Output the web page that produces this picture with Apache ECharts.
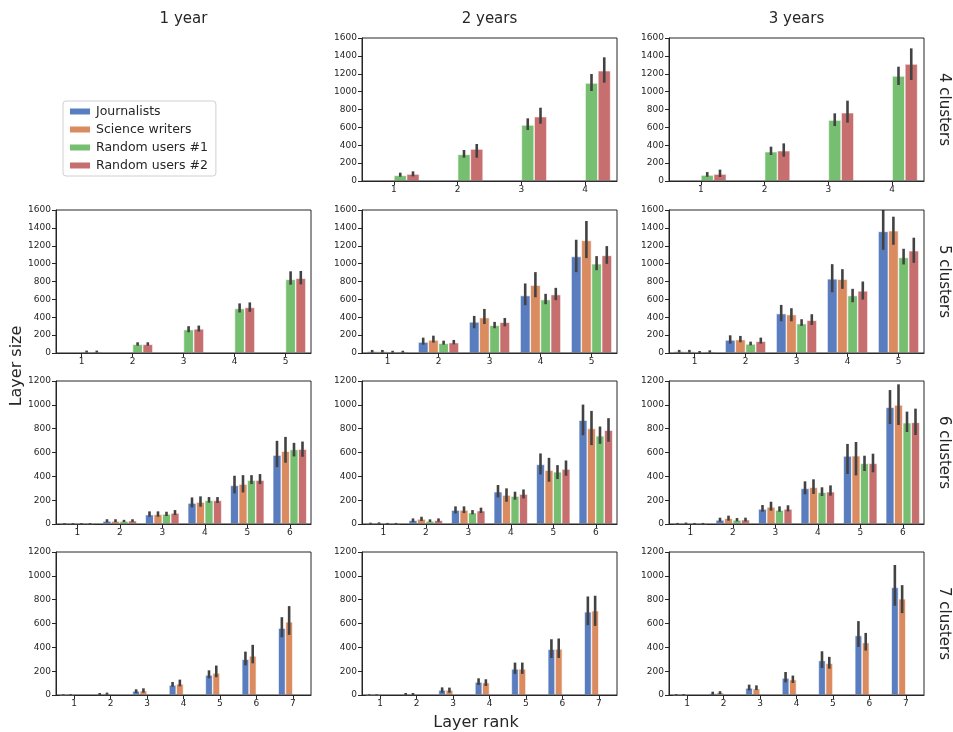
<!DOCTYPE html>
<html>
<head>
<meta charset="utf-8">
<script src="https://cdn.jsdelivr.net/npm/echarts@6/dist/echarts.min.js"></script>
<style>html,body{margin:0;padding:0;background:#fff}#c{width:953px;height:732px}</style>
</head>
<body>
<div id="c"></div>
<script>
const hueNames = ['Journalists', 'Science writers', 'Random users #1', 'Random users #2'];
const hueColors = ['#597dbf', '#da8b5f', '#76bf71', '#c76e6e'];
const colTitles = ['1 year', '2 years', '3 years'];
const rowTitles = ['4 clusters', '5 clusters', '6 clusters', '7 clusters'];
const rowYMax = [1600, 1600, 1200, 1200];
const yTickStep = 200;
const cats4 = ['1', '2', '3', '4'];
const cats5 = ['1', '2', '3', '4', '5'];
const cats6 = ['1', '2', '3', '4', '5', '6'];
const cats7 = ['1', '2', '3', '4', '5', '6', '7'];

// order of hues: Journalists, Science writers, Random users #1, Random users #2
// 2 years, 4 clusters
const y2c4_mean = [[], [], [63, 298, 627, 1096], [78, 358, 720, 1234]];
const y2c4_lo   = [[], [], [48, 261, 571, 1007], [52, 261, 641, 1100]];
const y2c4_hi   = [[], [], [93, 347, 701, 1197], [108, 414, 820, 1384]];
// 3 years, 4 clusters
const y3c4_mean = [[], [], [67, 328, 682, 1175], [78, 339, 764, 1309]];
const y3c4_lo   = [[], [], [48, 291, 615, 1074], [45, 272, 653, 1130]];
const y3c4_hi   = [[], [], [100, 384, 757, 1279], [127, 421, 899, 1484]];
// 1 year, 5 clusters
const y1c5_mean = [[], [], [15, 97, 262, 498, 824], [15, 97, 270, 510, 836]];
const y1c5_lo   = [[], [], [6, 82, 232, 453, 764], [6, 82, 240, 461, 768]];
const y1c5_hi   = [[], [], [27, 120, 300, 555, 914], [27, 120, 307, 566, 918]];
// 2 years, 5 clusters
const y2c5_mean = [[19, 123, 348, 643, 1080], [19, 146, 396, 759, 1260], [15, 108, 310, 598, 998], [15, 116, 344, 654, 1092]];
const y2c5_lo   = [[6, 93, 277, 535, 905], [6, 116, 325, 624, 1062], [5, 93, 277, 546, 927], [5, 97, 299, 591, 998]];
const y2c5_hi   = [[34, 172, 415, 778, 1267], [34, 194, 493, 905, 1477], [25, 138, 348, 662, 1084], [25, 146, 392, 729, 1196]];
// 3 years, 5 clusters
const y3c5_mean = [[19, 146, 441, 830, 1361], [19, 150, 430, 826, 1368], [11, 101, 329, 643, 1069], [15, 131, 366, 695, 1144]];
const y3c5_lo   = [[6, 105, 355, 680, 1155], [6, 120, 355, 718, 1211], [3, 86, 303, 568, 991], [5, 105, 314, 598, 1009]];
const y3c5_hi   = [[35, 198, 538, 994, 1600], [35, 191, 501, 938, 1525], [22, 127, 378, 718, 1166], [30, 172, 434, 800, 1290]];
// 1 year, 6 clusters
const y1c6_mean = [[5, 25, 78, 176, 324, 578], [5, 25, 81, 184, 335, 611], [5, 25, 84, 198, 368, 625], [5, 28, 92, 198, 368, 628]];
const y1c6_lo   = [[2, 15, 61, 140, 257, 477], [2, 15, 61, 145, 265, 514], [2, 16, 67, 179, 335, 567], [2, 18, 75, 176, 335, 564]];
const y1c6_hi   = [[8, 40, 106, 223, 405, 698], [8, 40, 106, 232, 410, 731], [8, 35, 103, 226, 410, 681], [8, 40, 117, 226, 419, 692]];
// 2 years, 6 clusters
const y2c6_mean = [[6, 31, 117, 271, 500, 871], [8, 42, 117, 243, 452, 801], [5, 25, 95, 234, 438, 740], [5, 31, 112, 251, 461, 787]];
const y2c6_lo   = [[2, 17, 89, 223, 416, 745], [3, 25, 92, 187, 355, 662], [2, 17, 81, 204, 377, 673], [2, 20, 92, 215, 405, 690]];
const y2c6_hi   = [[11, 47, 148, 327, 592, 1002], [14, 61, 148, 299, 555, 949], [9, 39, 117, 271, 494, 818], [9, 47, 137, 290, 533, 888]];
// 3 years, 6 clusters
const y3c6_mean = [[5, 34, 126, 299, 571, 979], [6, 48, 143, 308, 573, 999], [5, 34, 117, 266, 509, 850], [5, 36, 126, 271, 509, 853]];
const y3c6_lo   = [[2, 20, 103, 249, 420, 839], [2, 28, 112, 252, 408, 831], [2, 22, 103, 235, 445, 772], [2, 22, 106, 238, 434, 747]];
const y3c6_hi   = [[9, 53, 159, 358, 672, 1124], [12, 70, 187, 375, 688, 1172], [9, 50, 148, 308, 573, 943], [9, 53, 157, 324, 590, 968]];
// 1 year, 7 clusters
const y1c7_mean = [[2, 8, 34, 84, 168, 300, 561], [3, 11, 36, 93, 185, 328, 614], [], []];
const y1c7_lo   = [[0, 2, 17, 70, 140, 249, 485], [0, 3, 20, 73, 149, 266, 505], [], []];
const y1c7_hi   = [[5, 17, 48, 109, 207, 364, 653], [6, 20, 56, 129, 247, 421, 746], [], []];
// 2 years, 7 clusters
const y2c7_mean = [[2, 8, 42, 109, 219, 384, 698], [2, 8, 42, 104, 219, 387, 707], [], []];
const y2c7_lo   = [[0, 2, 20, 84, 177, 311, 586], [0, 2, 20, 76, 177, 311, 580], [], []];
const y2c7_hi   = [[5, 17, 64, 140, 272, 468, 827], [5, 17, 62, 132, 272, 474, 833], [], []];
// 3 years, 7 clusters
const y3c7_mean = [[3, 14, 59, 143, 289, 499, 903], [3, 20, 53, 129, 266, 440, 807], [], []];
const y3c7_lo   = [[0, 4, 39, 106, 227, 404, 749], [0, 8, 42, 101, 221, 373, 687], [], []];
const y3c7_hi   = [[6, 28, 87, 193, 367, 620, 1091], [6, 32, 81, 163, 320, 521, 922], [], []];

const panels = [
  {row: 0, col: 1, cats: cats4, mean: y2c4_mean, lo: y2c4_lo, hi: y2c4_hi},
  {row: 0, col: 2, cats: cats4, mean: y3c4_mean, lo: y3c4_lo, hi: y3c4_hi},
  {row: 1, col: 0, cats: cats5, mean: y1c5_mean, lo: y1c5_lo, hi: y1c5_hi},
  {row: 1, col: 1, cats: cats5, mean: y2c5_mean, lo: y2c5_lo, hi: y2c5_hi},
  {row: 1, col: 2, cats: cats5, mean: y3c5_mean, lo: y3c5_lo, hi: y3c5_hi},
  {row: 2, col: 0, cats: cats6, mean: y1c6_mean, lo: y1c6_lo, hi: y1c6_hi},
  {row: 2, col: 1, cats: cats6, mean: y2c6_mean, lo: y2c6_lo, hi: y2c6_hi},
  {row: 2, col: 2, cats: cats6, mean: y3c6_mean, lo: y3c6_lo, hi: y3c6_hi},
  {row: 3, col: 0, cats: cats7, mean: y1c7_mean, lo: y1c7_lo, hi: y1c7_hi},
  {row: 3, col: 1, cats: cats7, mean: y2c7_mean, lo: y2c7_lo, hi: y2c7_hi},
  {row: 3, col: 2, cats: cats7, mean: y3c7_mean, lo: y3c7_lo, hi: y3c7_hi}
];

const colLeft = [56, 362, 669];
const rowTop = [38, 210, 381, 552];
const gW = 255, gH = 143;
const ink = '#262626';
const FONT = 'DejaVu Sans';

const grids = [], xAxes = [], yAxes = [], series = [];
panels.forEach((p, i) => {
  grids.push({left: colLeft[p.col], top: rowTop[p.row], width: gW, height: gH,
    show: true, borderColor: ink, borderWidth: 1, backgroundColor: 'transparent', z: 5});
  xAxes.push({gridIndex: i, type: 'category', data: p.cats,
    axisLine: {show: true, lineStyle: {color: ink, width: 1}},
    axisTick: {show: true, alignWithLabel: true, length: 4, lineStyle: {color: ink}},
    axisLabel: {fontSize: 9, color: ink, margin: 4, fontFamily: FONT},
    splitLine: {show: false}});
  yAxes.push({gridIndex: i, type: 'value', min: 0, max: rowYMax[p.row], interval: yTickStep,
    axisLine: {show: true, lineStyle: {color: ink, width: 1}},
    axisTick: {show: true, length: 4, lineStyle: {color: ink}},
    axisLabel: {fontSize: 9, color: ink, margin: 5, fontFamily: FONT, formatter: v => String(v)},
    splitLine: {show: false}});
  for (let h = 0; h < 4; h++) {
    series.push({type: 'bar', name: hueNames[h], xAxisIndex: i, yAxisIndex: i,
      data: p.mean[h], barGap: '0%', barCategoryGap: '20%',
      itemStyle: {color: hueColors[h], borderColor: '#ffffff', borderWidth: 0.6}, z: 2});
    const errData = [];
    p.mean[h].forEach((v, k) => { if (v != null) errData.push([k, p.lo[h][k], p.hi[h][k]]); });
    const hueIdx = h;
    series.push({type: 'custom', name: 'err' + h, xAxisIndex: i, yAxisIndex: i,
      data: errData, encode: {x: 0, y: [1, 2]}, z: 4, clip: true,
      renderItem: function (params, api) {
        const k = api.value(0);
        const bw = api.size([1, 0])[0];
        const x = api.coord([k, 0])[0] + (hueIdx - 1.5) * 0.2 * bw;
        const yTop = api.coord([k, api.value(2)])[1];
        const yBot = api.coord([k, api.value(1)])[1];
        return {type: 'line', shape: {x1: x, y1: yTop, x2: x, y2: yBot},
          style: {stroke: '#424242', lineWidth: 2.6}};
      }});
  }
});

const graphics = [];
colTitles.forEach((t, c) => graphics.push({type: 'text', x: colLeft[c] + gW / 2, y: 19,
  style: {text: t, fontSize: 15, fontFamily: FONT, fill: ink, align: 'center', verticalAlign: 'middle', textAlign: 'center', textVerticalAlign: 'middle'}}));
rowTitles.forEach((t, r) => graphics.push({type: 'text', x: 944, y: rowTop[r] + gH / 2, rotation: -Math.PI / 2,
  style: {text: t, fontSize: 15, fontFamily: FONT, fill: ink, align: 'center', verticalAlign: 'middle', textAlign: 'center', textVerticalAlign: 'middle'}}));
graphics.push({type: 'text', x: 17, y: 366, rotation: Math.PI / 2,
  style: {text: 'Layer size', fontSize: 16, fontFamily: FONT, fill: ink, align: 'center', verticalAlign: 'middle', textAlign: 'center', textVerticalAlign: 'middle'}});
graphics.push({type: 'text', x: 476, y: 723,
  style: {text: 'Layer rank', fontSize: 16, fontFamily: FONT, fill: ink, align: 'center', verticalAlign: 'middle', textAlign: 'center', textVerticalAlign: 'middle'}});

const chart = echarts.init(document.getElementById('c'), null, {renderer: 'canvas'});
chart.setOption({
  animation: false,
  backgroundColor: '#ffffff',
  textStyle: {fontFamily: FONT},
  legend: {data: hueNames, orient: 'vertical', left: 63, top: 101, icon: 'rect',
    itemWidth: 22, itemHeight: 8, itemGap: 5,
    textStyle: {fontSize: 12.5, color: ink, fontFamily: FONT},
    borderColor: '#d0d0d0', borderWidth: 1, borderRadius: 3, padding: [4, 8, 4, 5], backgroundColor: '#ffffff'},
  grid: grids, xAxis: xAxes, yAxis: yAxes, series: series, graphic: graphics
});
</script>
</body>
</html>
